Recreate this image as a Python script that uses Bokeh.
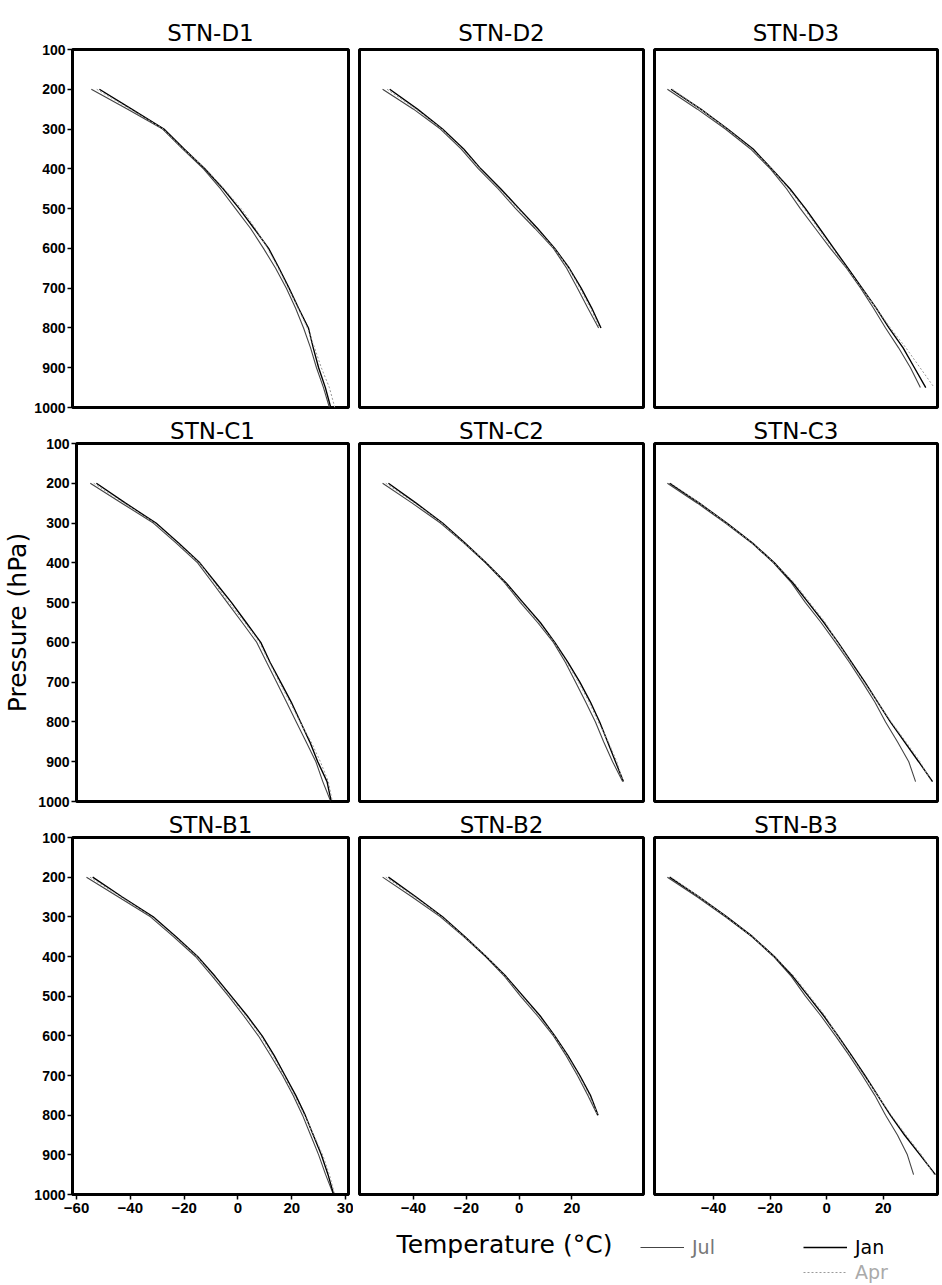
from bokeh.plotting import figure
from bokeh.layouts import column, row
from bokeh.models import Range1d, FixedTicker, Legend, LegendItem, Label
from bokeh.embed import file_html
from bokeh.resources import INLINE

# ---------------- data ----------------
P_1000 = [200, 250, 300, 350, 400, 450, 500, 550, 600, 650, 700, 750, 800, 850, 900, 950, 1000]
P_950 = [200, 250, 300, 350, 400, 450, 500, 550, 600, 650, 700, 750, 800, 850, 900, 950]
P_800 = [200, 250, 300, 350, 400, 450, 500, 550, 600, 650, 700, 750, 800]

D1_JUL = [-54.5, -41, -28, -20.6, -12.8, -6.5, -0.9, 4.7, 9.5, 14, 18, 21.4, 24.4, 27, 29.2, 31.8, 34]
D1_JAN = [-51.5, -39.5, -27.5, -20, -12.3, -5.5, 0.5, 6, 11.4, 15.3, 19, 22.5, 26.2, 28, 30, 32.5, 34.5]
D1_APR = [-52.5, -40, -27.8, -20.3, -12, -5.2, 1.2, 6.5, 11, 15, 18.7, 22.3, 25.8, 28.5, 31, 34, 36]

D2_JUL = [-51.7, -40, -29.8, -22, -15.4, -8, -1.3, 6, 13, 18, 22.1, 26, 30.1]
D2_JAN = [-49, -38.5, -29, -21, -14.5, -7, 0, 7, 13.5, 19, 23.5, 27.5, 31]
D2_APR = [-50, -39, -29.3, -21.5, -14.8, -7.8, -0.5, 6.5, 13.3, 18.8, 23, 27, 30.5]

D3_JUL = [-56.3, -45.7, -35.8, -26.9, -19.9, -14.2, -9.3, -4, 1.3, 7, 12, 16.5, 20.8, 25.4, 29.6, 33.1]
D3_JAN = [-55, -44.5, -35, -26, -19.5, -13, -7.5, -2.5, 2.5, 7.5, 12.5, 17.5, 22, 27, 31, 35]
D3_APR = [-54.5, -44.5, -35.2, -26.5, -19.5, -13.5, -8, -3, 2, 7.2, 12.3, 17.5, 22.5, 28, 33, 38]

C1_JUL = [-56.3, -44.4, -32.5, -24, -15.8, -10.2, -4.6, 1, 6.5, 10.2, 14, 17.7, 21.4, 25.1, 28.8, 31.4, 34.4]
C1_JAN = [-54, -43, -31.5, -23, -15, -9, -3, 2.5, 8, 11.5, 15.5, 19.5, 23, 26.5, 29.5, 33, 34.6]
C1_APR = [-55, -43.5, -32, -23.5, -15.2, -9.5, -4, 2, 7.5, 11.2, 15, 19, 22.8, 27, 30.5, 33.5, 35]

C2_JUL = [-51.7, -40.5, -29.8, -21, -12.7, -5.5, 0.5, 7, 13, 17.5, 21.4, 25.2, 28.9, 32, 35.4, 39.2]
C2_JAN = [-49.5, -39, -29, -20.5, -12.5, -5, 1.5, 8, 13.5, 18.5, 23, 27, 30.5, 33.5, 36.5, 39.5]
C2_APR = [-50.5, -39.5, -29.3, -20.8, -12.3, -5.3, 1, 7.5, 13.3, 18, 22.5, 26.5, 30, 33.8, 37, 39.4]

C3_JUL = [-56.3, -45.7, -35.8, -26.5, -18.8, -12.5, -7.5, -2, 3.1, 8, 12.6, 17, 20.8, 25, 29, 31.4]
C3_JAN = [-55.5, -45, -35.3, -26.2, -18.5, -12, -6.5, -1, 4, 8.8, 13.5, 18, 22.5, 27.5, 32.5, 37.4]
C3_APR = [-55, -45, -35.5, -26.3, -18.6, -11.5, -6, -0.5, 3.8, 8.5, 13.2, 18, 22.8, 28, 33, 37]

B1_JUL = [-56.3, -44.4, -32.5, -24, -15.8, -9.5, -3.5, 2.2, 7.6, 12.2, 16.6, 20.5, 24, 27, 30, 32.6, 35.5]
B1_JAN = [-54, -43, -31.5, -23, -15, -8.5, -2.5, 3.5, 9, 13.5, 17.5, 21.5, 25, 28, 31, 33.5, 35.6]
B1_APR = [-55, -43.5, -32, -23.5, -15.2, -9, -3, 3, 8.5, 13, 17, 21, 24.7, 28.2, 31.5, 34, 36]

B2_JUL = [-51.7, -40.5, -29.8, -21, -12.7, -5.5, 0.5, 7, 13, 17.8, 22.1, 26, 29.7]
B2_JAN = [-49.5, -39, -29, -20.5, -12.5, -5, 1.5, 8, 13.5, 18.5, 23, 27, 29.9]
B2_APR = [-50.5, -39.5, -29.3, -20.8, -12.3, -5.3, 1, 7.5, 13.3, 18.2, 22.6, 26.6, 29.8]

B3_JUL = [-56.3, -45.7, -35.8, -26.5, -18.8, -12.5, -7.5, -2, 3.1, 8, 12.6, 17, 20.8, 25, 28.5, 30.7]
B3_JAN = [-55.5, -45, -35.3, -26.2, -18.5, -12, -6.5, -1, 4, 8.8, 13.5, 18, 22.5, 27.5, 33, 38.4]
B3_APR = [-55, -45, -35.5, -26.3, -18.6, -11.5, -6, -0.5, 3.8, 8.5, 13.2, 18, 22.8, 28, 33.5, 38]

TITLES = [["STN-D1", "STN-D2", "STN-D3"], ["STN-C1", "STN-C2", "STN-C3"], ["STN-B1", "STN-B2", "STN-B3"]]
PRESSURES = [[P_1000, P_800, P_950], [P_1000, P_950, P_950], [P_1000, P_800, P_950]]
SERIES = [
    [(D1_JUL, D1_JAN, D1_APR), (D2_JUL, D2_JAN, D2_APR), (D3_JUL, D3_JAN, D3_APR)],
    [(C1_JUL, C1_JAN, C1_APR), (C2_JUL, C2_JAN, C2_APR), (C3_JUL, C3_JAN, C3_APR)],
    [(B1_JUL, B1_JAN, B1_APR), (B2_JUL, B2_JAN, B2_APR), (B3_JUL, B3_JAN, B3_APR)],
]
MONTHS = ["Jul", "Jan", "Apr"]
P_TICKS = [100, 200, 300, 400, 500, 600, 700, 800, 900, 1000]
T_TICKS_FIRST = [-60, -40, -20, 0, 20, 40]
T_TICKS_OTHER = [-40, -20, 0, 20]
T_LABEL_OVERRIDE = {40: "30"}

# ---------------- layout / style ----------------
X_RANGES = [(-61.5, 41.1), (-60.45, 47.1), (-60.85, 39.15)]
FIG_W = [353, 295, 293]
BORDER_L = [72, 6, 6]
BORDER_R = [5, 5, 4]
FIG_H = [415, 394, 413]
BORDER_T = [49, 28, 28]
BORDER_B = [8, 8, 28]
TITLE_STANDOFF = [8, 0, 0]
KEY_H = 62

STYLES = {
    "Jul": dict(line_color="#444444", line_width=1.1),
    "Jan": dict(line_color="black", line_width=1.4),
    "Apr": dict(line_color="#9a9a9a", line_width=1.0, line_dash="2 2"),
}
KEY_TEXT_COLOR = {"Jul": "#777777", "Jan": "black", "Apr": "#aaaaaa"}
KEY_POS = {"Jul": (640, 26), "Jan": (803, 26), "Apr": (803, 1)}

TICK_FONT = "Liberation Sans"
TEXT_FONT = "DejaVu Sans"

figs = []
for r in range(3):
    row_figs = []
    for c in range(3):
        p = figure(
            width=FIG_W[c], height=FIG_H[r],
            x_range=Range1d(*X_RANGES[c]), y_range=Range1d(1000, 100),
            output_backend="svg", toolbar_location=None,
            min_border_left=BORDER_L[c], min_border_right=BORDER_R[c],
            min_border_top=BORDER_T[r], min_border_bottom=BORDER_B[r],
            title=TITLES[r][c],
            x_axis_location="below" if r == 2 else None,
            y_axis_location="left" if c == 0 else None,
        )
        p.title.align = "center"
        p.title.text_font = TEXT_FONT
        p.title.text_font_style = "normal"
        p.title.text_font_size = "23px"
        p.title.text_color = "black"
        p.title.standoff = TITLE_STANDOFF[r]
        p.grid.visible = False
        p.outline_line_color = "black"
        p.outline_line_width = 3
        p.background_fill_color = "white"
        p.border_fill_color = "white"

        if c == 0:
            ax = p.yaxis[0]
            ax.ticker = FixedTicker(ticks=P_TICKS)
            ax.major_label_text_font = TICK_FONT
            ax.major_label_text_font_style = "bold"
            ax.major_label_text_font_size = "14px"
            ax.major_label_text_color = "black"
            ax.major_tick_out = 5
            ax.major_tick_in = 0
            ax.minor_tick_out = 0
            ax.minor_tick_in = 0
            ax.major_tick_line_width = 1.5
            ax.axis_line_width = 3
            ax.major_label_standoff = 2
            if r == 1:
                ax.axis_label = "Pressure (hPa)"
                ax.axis_label_text_font = TEXT_FONT
                ax.axis_label_text_font_style = "normal"
                ax.axis_label_text_font_size = "25px"
                ax.axis_label_text_color = "black"
                ax.axis_label_standoff = 3
        if r == 2:
            ax = p.xaxis[0]
            ax.ticker = FixedTicker(ticks=T_TICKS_FIRST if c == 0 else T_TICKS_OTHER)
            if c == 0:
                ax.major_label_overrides = T_LABEL_OVERRIDE
            ax.major_label_text_font = TICK_FONT
            ax.major_label_text_font_style = "bold"
            ax.major_label_text_font_size = "15px"
            ax.major_label_text_color = "black"
            ax.major_tick_out = 5
            ax.major_tick_in = 0
            ax.minor_tick_out = 0
            ax.minor_tick_in = 0
            ax.major_tick_line_width = 1.5
            ax.axis_line_width = 3
            ax.major_label_standoff = 3

        pres = PRESSURES[r][c]
        for month, temps in zip(MONTHS, SERIES[r][c]):
            p.line(temps, pres, **STYLES[month])
        row_figs.append(p)
    figs.append(row_figs)

# ---------------- bottom strip: x-axis title and key ----------------
total_w = sum(FIG_W)
key = figure(width=total_w, height=KEY_H, x_range=Range1d(0, total_w), y_range=Range1d(0, KEY_H),
             output_backend="svg", toolbar_location=None,
             min_border_left=0, min_border_right=0, min_border_top=0, min_border_bottom=0,
             x_axis_location=None, y_axis_location=None)
key.grid.visible = False
key.outline_line_color = None
key.background_fill_color = "white"
key.border_fill_color = "white"

key.add_layout(Label(x=504, y=KEY_H - 22, x_units="screen", y_units="screen",
                     text="Temperature (°C)", text_align="center", text_baseline="middle",
                     text_font=TEXT_FONT, text_font_size="25px", text_color="black"))

NAN = float("nan")
for month in MONTHS:
    # key-only renderer (a single undefined point, so nothing is drawn in the strip)
    rend = key.line(x=[NAN], y=[NAN], **STYLES[month])
    lg = Legend(items=[LegendItem(label=month, renderers=[rend])], location=KEY_POS[month],
                orientation="vertical", padding=0, margin=0, spacing=0,
                glyph_width=44, glyph_height=18, label_height=18, label_standoff=8,
                label_text_font=TEXT_FONT, label_text_font_size="19px",
                label_text_color=KEY_TEXT_COLOR[month], border_line_alpha=0,
                background_fill_alpha=0)
    key.add_layout(lg, "center")

layout = column(*[row(*rf, spacing=0) for rf in figs], key, spacing=0)
open("out.html", "w").write(file_html(layout, INLINE))
